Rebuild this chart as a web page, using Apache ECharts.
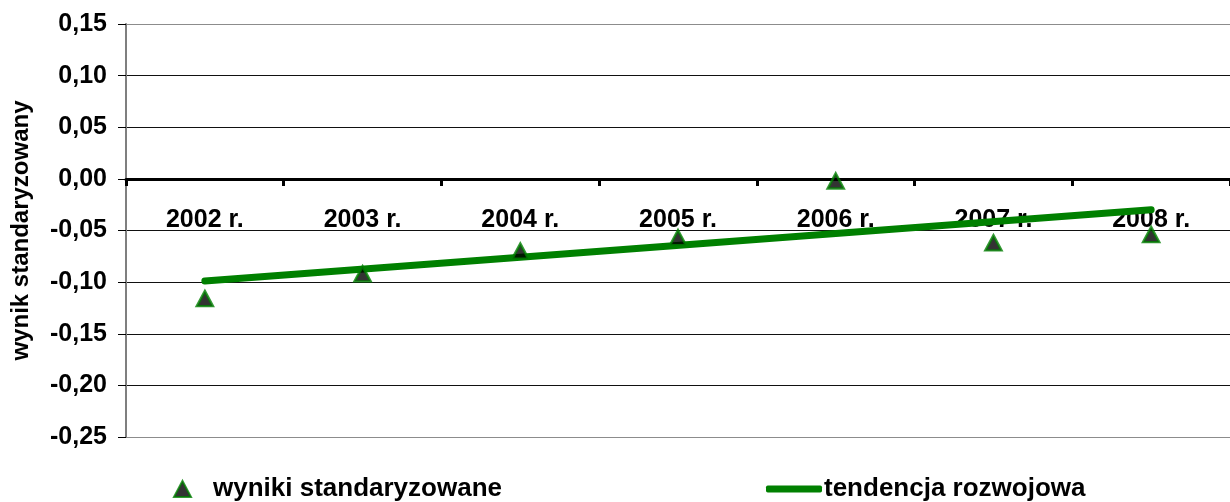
<!DOCTYPE html>
<html>
<head>
<meta charset="utf-8">
<script src="https://cdn.jsdelivr.net/npm/echarts@6/dist/echarts.min.js"></script>
<style>
  html, body { margin: 0; padding: 0; background: #fff; }
  #chart { width: 1230px; height: 502px; }
</style>
</head>
<body>
<div id="chart"></div>
<script>
// lata
var years = ['2002 r.', '2003 r.', '2004 r.', '2005 r.', '2006 r.', '2007 r.', '2008 r.'];
// wyniki standaryzowane
var wyniki = [-0.116, -0.092, -0.070, -0.057, -0.002, -0.062, -0.054];
// tendencja rozwojowa - tylko punkty koncowe prostej
var tendencja = [-0.099, null, null, null, null, null, -0.030];

var font = 'Liberation Sans, Arial, sans-serif';
var green = '#008000';

window.onload = function () {
  var chart = echarts.init(document.getElementById('chart'));
  chart.setOption({
    animation: false,
    backgroundColor: '#fff',
    grid: {
      left: 126,
      top: 24,
      bottom: 65,
      right: -11,
      containLabel: false
    },
    legend: [{
      data: ['wyniki standaryzowane'],
      left: 168,
      top: 471,
      itemWidth: 17,
      itemHeight: 16,
      icon: 'triangle',
      textStyle: {
        fontFamily: font,
        fontWeight: 'bold',
        fontSize: 26,
        color: '#000',
        padding: [0, 0, 0, 17]
      }
    }, {
      data: ['tendencja rozwojowa'],
      left: 761,
      top: 471,
      itemWidth: 56,
      itemHeight: 7,
      icon: 'roundRect',
      textStyle: {
        fontFamily: font,
        fontWeight: 'bold',
        fontSize: 26,
        color: '#000',
        padding: [0, 0, 0, -3]
      }
    }],
    xAxis: {
      type: 'category',
      data: years,
      boundaryGap: true,
      axisLine: {
        onZero: true,
        lineStyle: { color: '#000', width: 3 }
      },
      axisTick: {
        show: true,
        length: 7,
        lineStyle: { color: '#000', width: 3 }
      },
      axisLabel: {
        // etykiety pod osia zerowa (nie na dole wykresu)
        margin: -229,
        fontFamily: font,
        fontWeight: 'bold',
        fontSize: 25,
        color: '#000'
      },
      splitLine: { show: false }
    },
    yAxis: {
      type: 'value',
      min: -0.25,
      max: 0.15,
      interval: 0.05,
      name: 'wynik standaryzowany',
      nameLocation: 'middle',
      nameGap: 93,
      nameTextStyle: {
        fontFamily: font,
        fontWeight: 'bold',
        fontSize: 24,
        color: '#000'
      },
      axisLine: {
        show: true,
        lineStyle: { color: '#7f7f7f', width: 2 }
      },
      axisTick: {
        show: true,
        length: 8,
        lineStyle: { color: '#000', width: 1 }
      },
      axisLabel: {
        margin: 19,
        fontFamily: font,
        fontWeight: 'bold',
        fontSize: 25,
        color: '#000',
        formatter: function (v) {
          return v.toFixed(2).replace('.', ',').replace('-0,00', '0,00');
        }
      },
      splitLine: {
        show: true,
        lineStyle: {
          color: ['#8c8c8c', '#111', '#111', '#111', '#111', '#111', '#111', '#111', '#8c8c8c'],
          width: 1
        }
      }
    },
    series: [{
      name: 'tendencja rozwojowa',
      type: 'line',
      data: tendencja,
      connectNulls: true,
      symbol: 'none',
      z: 2,
      itemStyle: { color: green },
      lineStyle: { color: green, width: 7, cap: 'round' }
    }, {
      name: 'wyniki standaryzowane',
      type: 'scatter',
      data: wyniki,
      symbol: 'triangle',
      symbolSize: [16, 15],
      z: 3,
      itemStyle: {
        color: '#000',
        borderColor: green,
        borderWidth: 2.5
      }
    }]
  });
};
</script>
</body>
</html>
